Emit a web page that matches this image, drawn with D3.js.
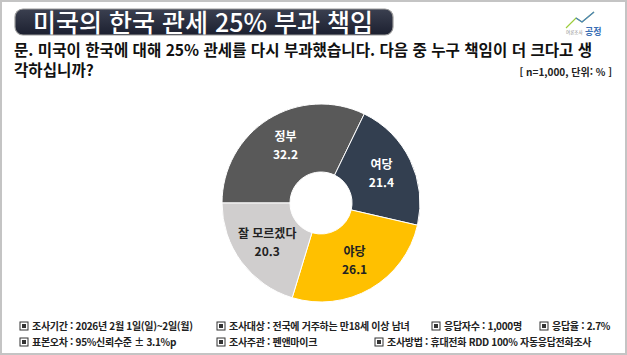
<!DOCTYPE html>
<html lang="ko">
<head>
<meta charset="UTF-8" />
<title>미국의 한국 관세 25% 부과 책임</title>
<script src="https://d3js.org/d3.v7.min.js"></script>
<style>
  html, body { margin: 0; padding: 0; background: #fff; }
  svg { display: block; font-family: "Noto Sans CJK KR", "Noto Sans", sans-serif; }
</style>
</head>
<body>
<script>
  // data
  const labels = ['정부', '여당', '야당', '잘 모르겠다'];
  const values = [32.2, 21.4, 26.1, 20.3];
  const colors = ['#595959', '#333f50', '#ffc000', '#d0cece'];
  const textColors = ['#fff', '#fff', '#222', '#222'];

  const title = '미국의 한국 관세 25% 부과 책임';
  const question = ['문. 미국이 한국에 대해 25% 관세를 다시 부과했습니다. 다음 중 누구 책임이 더 크다고 생', '각하십니까?'];
  const note = '[ n=1,000, 단위: % ]';
  const footRow1 = ['조사기간 : 2026년 2월 1일(일)~2일(월)', '조사대상 : 전국에 거주하는 만18세 이상 남녀', '응답자수 : 1,000명', '응답율 : 2.7%'];
  const footRow2 = ['표본오차 : 95%신뢰수준 ± 3.1%p', '조사주관 : 펜앤마이크', '조사방법 : 휴대전화 RDD 100% 자동응답전화조사'];

  const width = 627, height = 355;
  const svg = d3.select('body').append('svg')
    .attr('width', width)
    .attr('height', height);

  // frame
  svg.append('rect')
    .attr('x', 1).attr('y', 1)
    .attr('width', width - 2).attr('height', height - 2)
    .attr('fill', '#fff')
    .attr('stroke', '#c4c4c4')
    .attr('stroke-width', 2);

  // title pill
  const grad = svg.append('defs').append('linearGradient')
    .attr('id', 'pill').attr('x1', 0).attr('y1', 0).attr('x2', 0).attr('y2', 1);
  grad.append('stop').attr('offset', '0%').attr('stop-color', '#3b4050');
  grad.append('stop').attr('offset', '100%').attr('stop-color', '#1c2030');

  svg.append('rect')
    .attr('x', 15).attr('y', 9)
    .attr('width', 378).attr('height', 26)
    .attr('rx', 8)
    .attr('fill', 'url(#pill)')
    .attr('stroke', '#9a9a9a')
    .attr('stroke-width', 1.2);

  svg.append('text')
    .attr('x', 203).attr('y', 31.5)
    .attr('text-anchor', 'middle')
    .attr('fill', '#fff')
    .style('font-size', '25px')
    .style('font-weight', 500)
    .text(title);

  // logo
  const logo = svg.append('g').attr('transform', 'translate(562,10)');
  logo.append('path')
    .attr('d', 'M4,18 L14,8 L20,12 L32,2')
    .attr('fill', 'none')
    .attr('stroke', '#9ccc3c')
    .attr('stroke-width', 1.2);
  logo.append('path')
    .attr('d', 'M14,8 L20,12 L32,2')
    .attr('fill', 'none')
    .attr('stroke', '#4a7fc1')
    .attr('stroke-width', 1.2);
  logo.append('text')
    .attr('x', 4).attr('y', 24)
    .attr('fill', '#888')
    .style('font-size', '4.5px')
    .text('여론조사');
  logo.append('text')
    .attr('x', 23).attr('y', 25)
    .attr('fill', '#3a6fb5')
    .style('font-size', '9px')
    .style('font-weight', 700)
    .text('공정');

  // question
  svg.selectAll('.question')
    .data(question)
    .join('text')
    .attr('class', 'question')
    .attr('x', 14)
    .attr('y', (d, i) => 56 + i * 20)
    .attr('fill', '#111')
    .style('font-size', '15.6px')
    .style('font-weight', 700)
    .text(d => d);

  svg.append('text')
    .attr('x', 612).attr('y', 76)
    .attr('text-anchor', 'end')
    .attr('fill', '#222')
    .style('font-size', '10px')
    .style('font-weight', 700)
    .text(note);

  // donut
  const cx = 321, cy = 203, outerR = 99, innerR = 31;
  const pie = d3.pie().sort(null)
    .startAngle(-Math.PI / 2)
    .endAngle(Math.PI * 1.5);
  const arc = d3.arc().innerRadius(innerR).outerRadius(outerR);
  const labelArc = d3.arc().innerRadius(67).outerRadius(67);

  const arcs = pie(values);
  const g = svg.append('g').attr('transform', `translate(${cx},${cy})`);

  g.selectAll('path')
    .data(arcs)
    .join('path')
    .attr('d', arc)
    .attr('fill', (d, i) => colors[i])
    .attr('stroke', '#fff')
    .attr('stroke-width', 1);

  const lbl = g.selectAll('.lbl')
    .data(arcs)
    .join('g')
    .attr('class', 'lbl')
    .attr('transform', d => `translate(${labelArc.centroid(d)})`);

  lbl.append('text')
    .attr('text-anchor', 'middle')
    .attr('y', -5)
    .attr('fill', (d, i) => textColors[i])
    .style('font-size', '12px')
    .style('font-weight', 700)
    .text((d, i) => labels[i]);

  lbl.append('text')
    .attr('text-anchor', 'middle')
    .attr('y', 13)
    .attr('fill', (d, i) => textColors[i])
    .style('font-size', '12px')
    .style('font-weight', 700)
    .text(d => d3.format('.1f')(d.data));

  // footer
  const row1X = [20, 217, 432, 540];
  const row2X = [20, 217, 375];
  const drawRow = (items, xs, y) => {
    const r = svg.append('g');
    items.forEach((t, i) => {
      r.append('rect')
        .attr('x', xs[i]).attr('y', y - 8)
        .attr('width', 8).attr('height', 8)
        .attr('fill', '#fff').attr('stroke', '#333').attr('stroke-width', 1);
      r.append('rect')
        .attr('x', xs[i] + 2).attr('y', y - 6)
        .attr('width', 4).attr('height', 4)
        .attr('fill', '#333');
      r.append('text')
        .attr('x', xs[i] + 12).attr('y', y)
        .attr('fill', '#222')
        .style('font-size', '10px')
        .style('font-weight', 700)
        .style('letter-spacing', '-0.3px')
        .text(t);
    });
  };
  drawRow(footRow1, row1X, 330);
  drawRow(footRow2, row2X, 346);
</script>
</body>
</html>
